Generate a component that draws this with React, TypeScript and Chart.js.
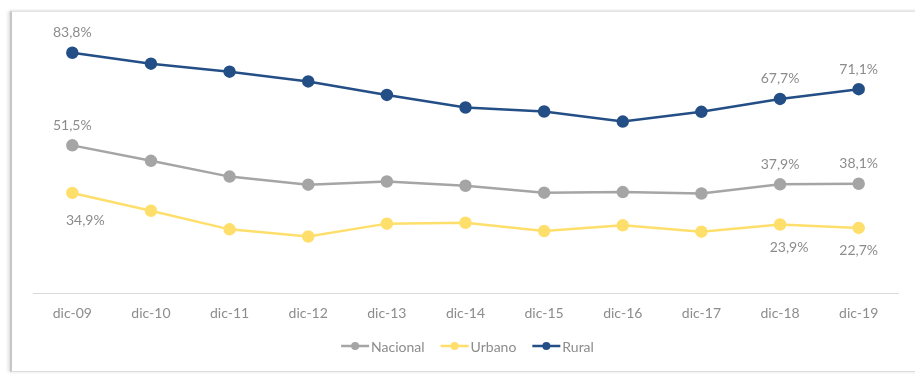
import React, { useEffect, useRef } from "react";
import { Chart, registerables } from "chart.js";

Chart.register(...registerables);

// Periodos (diciembre de cada año)
const periods = ["dic-09", "dic-10", "dic-11", "dic-12", "dic-13", "dic-14", "dic-15", "dic-16", "dic-17", "dic-18", "dic-19"];

// Porcentajes por ámbito
const nacional = [51.5, 46.1, 40.6, 37.8, 38.9, 37.4, 35.0, 35.2, 34.7, 37.9, 38.1];
const urbano = [34.9, 28.7, 22.2, 19.7, 24.2, 24.5, 21.6, 23.6, 21.4, 23.9, 22.7];
const rural = [83.8, 80.0, 77.2, 73.8, 69.1, 64.7, 63.3, 59.8, 63.2, 67.7, 71.1];

// Índices de los puntos que llevan etiqueta de valor
const labeledPoints = [0, 9, 10];

const FONT = "Lato, 'Open Sans', sans-serif";
const TEXT_GRAY = "#8c8c8c";

const fmt = (v: number) => v.toFixed(1).replace(".", ",") + "%";

// Etiquetas de valor: encima o debajo según la serie
const valueLabels = {
  id: "valueLabels",
  afterDatasetsDraw(chart: any) {
    const ctx = chart.ctx;
    ctx.save();
    ctx.font = `14px ${FONT}`;
    ctx.fillStyle = TEXT_GRAY;
    ctx.textAlign = "center";
    ctx.textBaseline = "middle";
    chart.data.datasets.forEach((ds: any, di: number) => {
      const meta = chart.getDatasetMeta(di);
      const below = ds.labelBelow;
      labeledPoints.forEach((i) => {
        const pt = meta.data[i];
        if (!pt) return;
        const dx = below && i === 0 ? 13 : below && i === 9 ? 9 : 0;
        const dy = below ? (i === 0 ? 28 : 23) : -20;
        ctx.fillText(fmt(ds.data[i]), pt.x + dx, pt.y + dy);
      });
    });
    ctx.restore();
  },
};

// Leyenda inferior con línea y marcador
const lineLegend = {
  id: "lineLegend",
  afterDraw(chart: any) {
    const ctx = chart.ctx;
    const area = chart.chartArea;
    ctx.save();
    ctx.font = `14px ${FONT}`;
    ctx.textBaseline = "middle";
    ctx.textAlign = "left";
    const markerW = 28;
    const gapText = 2;
    const gapItem = 16;
    const items = chart.data.datasets.map((ds: any) => ({
      ds,
      w: markerW + gapText + ctx.measureText(ds.label).width,
    }));
    const total = items.reduce((s: number, it: any) => s + it.w, 0) + gapItem * (items.length - 1);
    let x = (area.left + area.right) / 2 + 2 - total / 2;
    const y = 346;
    items.forEach((it: any) => {
      ctx.strokeStyle = it.ds.borderColor;
      ctx.lineWidth = 2.5;
      ctx.beginPath();
      ctx.moveTo(x, y);
      ctx.lineTo(x + markerW, y);
      ctx.stroke();
      ctx.fillStyle = it.ds.borderColor;
      ctx.beginPath();
      ctx.arc(x + markerW / 2, y, 4, 0, Math.PI * 2);
      ctx.fill();
      ctx.fillStyle = TEXT_GRAY;
      ctx.fillText(it.ds.label, x + markerW + gapText, y + 1);
      x += it.w + gapItem;
    });
    ctx.restore();
  },
};

export default function App() {
  const canvasRef = useRef<HTMLCanvasElement | null>(null);

  useEffect(() => {
    document.body.style.margin = "0";
    const canvas = canvasRef.current;
    if (!canvas) return;
    const series = (label: string, data: number[], color: string, labelBelow: boolean) => ({
      label,
      data,
      borderColor: color,
      backgroundColor: color,
      pointBackgroundColor: color,
      pointBorderColor: color,
      borderWidth: 2.5,
      pointRadius: 5,
      pointHoverRadius: 5,
      tension: 0,
      labelBelow,
    });
    const chart = new Chart(canvas, {
      type: "line",
      data: {
        labels: periods,
        datasets: [
          series("Nacional", nacional, "#a5a5a5", false),
          series("Urbano", urbano, "#ffdf6b", true),
          series("Rural", rural, "#234e86", false),
        ],
      },
      options: {
        responsive: false,
        animation: false,
        layout: { padding: { left: 33, right: 17, top: 35, bottom: 50 } },
        plugins: {
          legend: { display: false },
          tooltip: { enabled: false },
        },
        scales: {
          x: {
            offset: true,
            grid: { display: false, drawTicks: false },
            border: { display: true, color: "#d9d9d9", width: 1 },
            ticks: {
              color: TEXT_GRAY,
              font: { family: FONT, size: 14 },
              padding: 12,
              maxRotation: 0,
            },
            afterFit: (scale: any) => {
              scale.height = 31;
            },
          },
          y: {
            display: false,
            min: 0,
            max: 90,
          },
        },
      },
      plugins: [valueLabels, lineLegend],
    });
    return () => chart.destroy();
  }, []);

  return (
    <div style={{ position: "relative", width: 915, height: 374, overflow: "hidden", background: "#fff" }}>
      <div
        style={{
          position: "absolute",
          left: 10,
          top: 11,
          width: 940,
          height: 359,
          borderTop: "1px solid #e2e2e2",
          borderBottom: "1px solid #dcdcdc",
          borderLeft: "2px solid #c6c6c6",
          boxShadow: "-2px 0 3px rgba(0,0,0,0.12), 0 -1px 2px rgba(0,0,0,0.05)",
        }}
      />
      <canvas ref={canvasRef} width={915} height={374} style={{ position: "absolute", left: 0, top: 0 }} />
    </div>
  );
}
